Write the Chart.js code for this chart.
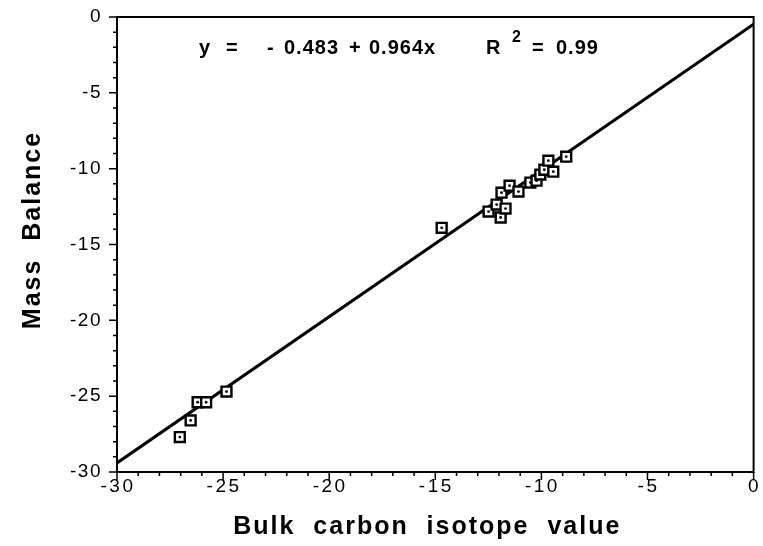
<!DOCTYPE html>
<html>
<head>
<meta charset="utf-8">
<script src="https://cdn.jsdelivr.net/npm/chart.js@4.4.1/dist/chart.umd.min.js"></script>
<style>
  html, body { margin: 0; padding: 0; background: #fff; }
  #wrap { width: 763px; height: 546px; }
</style>
</head>
<body>
<div id="wrap"><canvas id="c" width="763" height="546"></canvas></div>
<script>
// ---- data ----
const bulkIsotope = [-27.04, -26.53, -26.2, -25.8, -24.84, -14.7, -12.49, -12.11, -11.92, -11.69, -11.88, -11.50, -11.08, -10.52, -10.23, -10.05, -9.86, -9.44, -9.67, -8.83];
const massBalance = [-27.7, -26.6, -25.4, -25.4, -24.7, -13.9, -12.83, -12.37, -13.22, -12.63, -11.58, -11.12, -11.51, -10.92, -10.79, -10.39, -10.07, -10.2, -9.47, -9.21];
const fitIntercept = -0.483;
const fitSlope = 0.964;
const fitR2 = 0.99;
const fitXRange = [-30, 0];
const xTickValues = [-30, -25, -20, -15, -10, -5, 0];
const xTickLabels = ['-30', '-25', '-20', '-15', '-10', '-5', '0'];
const yTickLabels = ['0', '-5', '-10', '-15', '-20', '-25', '-30'];
const xTitle = 'Bulk  carbon  isotope  value';
const yTitle = 'Mass  Balance';

const points = bulkIsotope.map((x, i) => ({ x: x, y: massBalance[i] }));
const fitLine = fitXRange.map(x => ({ x: x, y: fitIntercept + fitSlope * x }));

const FONT = "'Liberation Sans', Arial, Helvetica, sans-serif";

const framePlugin = {
  id: 'frame',
  beforeDraw(chart) {
    chart.ctx.letterSpacing = '1.5px';
  },
  afterDraw(chart) {
    const { ctx, chartArea: a, scales: { x, y } } = chart;
    ctx.save();
    ctx.strokeStyle = '#000';
    ctx.lineWidth = 2;
    ctx.strokeRect(a.left, a.top, a.right - a.left, a.bottom - a.top);
    // tick marks (major every 5, minor every 1)
    ctx.lineWidth = 1.5;
    ctx.beginPath();
    for (let v = -30; v <= 0; v++) {
      const major = v % 5 === 0;
      const px = x.getPixelForValue(v);
      ctx.moveTo(px, a.bottom);
      ctx.lineTo(px, a.bottom + (major ? 8 : 4));
      const py = y.getPixelForValue(v);
      ctx.moveTo(a.left, py);
      ctx.lineTo(a.left - (major ? 8 : 4), py);
    }
    ctx.stroke();
    ctx.fillStyle = '#000';

    // x tick labels (letter-spaced as in the reference)
    ctx.font = '19px ' + FONT;
    ctx.letterSpacing = '2.5px';
    ctx.textAlign = 'center';
    ctx.textBaseline = 'middle';
    xTickValues.forEach((v, i) => {
      ctx.fillText(xTickLabels[i], x.getPixelForValue(v) + 1, a.bottom + 15);
    });

    // axis titles
    ctx.font = 'bold 25px ' + FONT;
    ctx.letterSpacing = '2px';
    ctx.fillText(xTitle, (a.left + a.right) / 2 - 8, 527);
    ctx.save();
    ctx.translate(33, 230);
    ctx.rotate(-Math.PI / 2);
    ctx.fillText(yTitle, 0, 0);
    ctx.restore();

    // equation annotation
    ctx.letterSpacing = '1px';
    ctx.font = 'bold 20px ' + FONT;
    ctx.textAlign = 'left';
    ctx.textBaseline = 'alphabetic';
    const base = 54;
    ctx.fillText('y', 199, base);
    ctx.fillText('=', 226, base);
    ctx.fillText('-', 267, base);
    ctx.fillText(Math.abs(fitIntercept).toFixed(3), 284, base);
    ctx.fillText('+', 349, base);
    ctx.fillText(fitSlope.toFixed(3) + 'x', 369, base);
    ctx.fillText('R', 486, base);
    ctx.font = 'bold 16px ' + FONT;
    ctx.fillText('2', 512, base - 12);
    ctx.font = 'bold 20px ' + FONT;
    ctx.fillText('=', 532, base);
    ctx.fillText(fitR2.toFixed(2), 556, base);
    ctx.restore();
  }
};

new Chart(document.getElementById('c'), {
  type: 'scatter',
  data: {
    datasets: [
      {
        type: 'line',
        data: fitLine,
        borderColor: '#000',
        borderWidth: 3,
        pointRadius: 0,
        fill: false,
        tension: 0,
        order: 2
      },
      {
        data: points,
        pointStyle: 'rect',
        pointRadius: 7,
        pointBorderWidth: 2.4,
        pointBorderColor: '#000',
        pointBackgroundColor: '#fff',
        order: 1
      },
      {
        data: points,
        pointStyle: 'circle',
        pointRadius: 1.4,
        pointBorderWidth: 0,
        pointBackgroundColor: '#000',
        order: 0
      }
    ]
  },
  options: {
    responsive: false,
    animation: false,
    devicePixelRatio: 1,
    layout: { padding: { left: 0, top: 17, right: 7, bottom: 0 } },
    plugins: { legend: { display: false }, tooltip: { enabled: false } },
    scales: {
      x: {
        type: 'linear',
        min: -30, max: 0,
        grid: { display: false, drawTicks: false },
        border: { display: false },
        ticks: { stepSize: 5, display: false },
        afterFit(s) { s.height = 74; s.paddingLeft = 0; s.paddingRight = 0; }
      },
      y: {
        type: 'linear',
        min: -30, max: 0,
        grid: { display: false, drawTicks: false },
        border: { display: false },
        ticks: {
          stepSize: 5,
          padding: 15,
          color: '#000',
          font: { family: FONT, size: 19 },
          callback: (v) => yTickLabels[Math.round(-v / 5)]
        },
        afterFit(s) { s.width = 117; s.paddingTop = 0; s.paddingBottom = 0; }
      }
    }
  },
  plugins: [framePlugin]
});
</script>
</body>
</html>
